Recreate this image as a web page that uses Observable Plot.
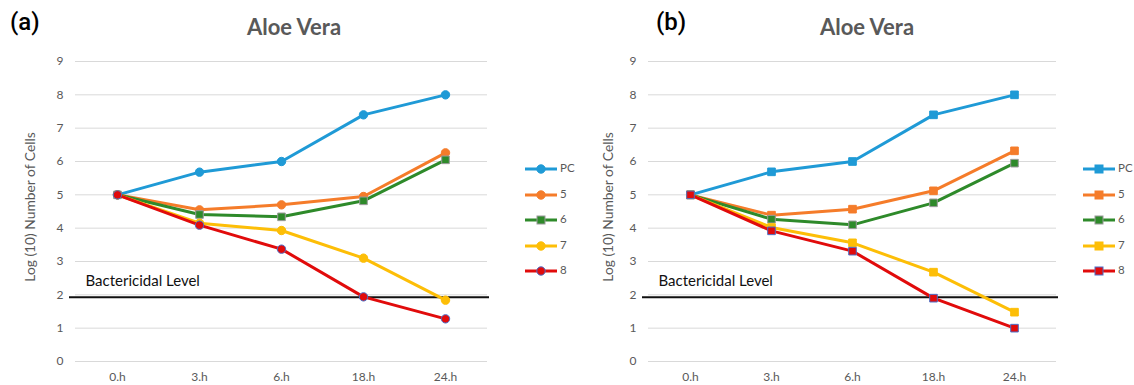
<!DOCTYPE html>
<html>
<head>
<meta charset="utf-8">
<script src="https://cdn.jsdelivr.net/npm/d3@7"></script>
<script src="https://cdn.jsdelivr.net/npm/@observablehq/plot@0.6"></script>
<style>
  body { margin: 0; background: #fff; font-family: Lato, "Open Sans", sans-serif; }
  #wrap { position: relative; width: 1134px; height: 385px; overflow: hidden; }
  .abs { position: absolute; white-space: nowrap; }
  .tag { font-family: Roboto, "Liberation Sans", sans-serif; font-weight: 500; font-size: 24px; color: #000; }
  .title { font-size: 22px; font-weight: bold; color: #595959; transform: translateX(-50%); }
  .ylab { font-size: 13.8px; color: #595959; transform: translate(-50%, -50%) rotate(-90deg); }
  .leg { font-size: 11.5px; color: #595959; }
</style>
</head>
<body>
<div id="wrap"></div>
<script>
// ---- data ----
const times = ["0.h", "3.h", "6.h", "18.h", "24.h"];
const seriesNames = ["PC", "5", "6", "7", "8"];
const yTicks = [0, 1, 2, 3, 4, 5, 6, 7, 8, 9];
const bactericidalLevel = 1.93;

// panel (a)
const aPC = [5, 5.68, 6.0, 7.4, 8.0];
const a5  = [5, 4.55, 4.7, 4.95, 6.26];
const a6  = [5, 4.41, 4.34, 4.82, 6.05];
const a7  = [5, 4.15, 3.93, 3.1, 1.84];
const a8  = [5, 4.09, 3.37, 1.94, 1.28];

// panel (b)
const bPC = [5, 5.69, 6.0, 7.4, 8.0];
const b5  = [5, 4.39, 4.57, 5.12, 6.32];
const b6  = [5, 4.27, 4.1, 4.76, 5.95];
const b7  = [5, 4.02, 3.56, 2.68, 1.48];
const b8  = [5, 3.92, 3.31, 1.9, 1.0];

// ---- styles ----
const lineColors = {PC: "#1f9ad6", "5": "#f57c2a", "6": "#2e8a2a", "7": "#fdbe07", "8": "#e10b0b"};
const markerStroke = {PC: "#1f9ad6", "5": "#f57c2a", "6": "#9a9a9a", "7": "#fdbe07", "8": "#4a6fc9"};

const wrap = document.getElementById("wrap");

function addDiv(cls, text, left, top) {
  const d = document.createElement("div");
  d.className = "abs " + cls;
  d.textContent = text;
  d.style.left = left + "px";
  d.style.top = top + "px";
  wrap.appendChild(d);
  return d;
}

function panel(cfg) {
  const data = [];
  seriesNames.forEach((s, i) => cfg.values[i].forEach((v, j) => data.push({time: times[j], value: v, series: s})));
  const marks = [
    Plot.ruleY(yTicks, {stroke: "#d9d9d9", strokeWidth: 1}),
    Plot.ruleY([bactericidalLevel], {stroke: "#111", strokeWidth: 2, insetLeft: -6, insetRight: -2}),
    Plot.text(["Bactericidal Level"], {frameAnchor: "left", y: [2.42], text: d => d, textAnchor: "start", dx: 10, fontSize: 15, fill: "#111"})
  ];
  seriesNames.forEach((s, i) => {
    const sd = data.filter(d => d.series === s);
    marks.push(Plot.line(sd, {x: "time", y: "value", stroke: lineColors[s], strokeWidth: 3}));
    const sym = cfg.symbols[i];
    marks.push(Plot.dot(sd, {x: "time", y: "value", symbol: sym, r: sym === "square" ? 4.3 : 4.2,
      fill: lineColors[s], stroke: markerStroke[s], strokeWidth: 1}));
  });
  const p = Plot.plot({
    width: 567, height: 385,
    marginTop: 61, marginBottom: 24, marginLeft: cfg.marginLeft, marginRight: cfg.marginRight,
    style: {fontFamily: "Lato, 'Open Sans', sans-serif", fontSize: "12px", color: "#595959", background: "transparent"},
    x: {type: "point", domain: times, padding: 0.5, label: null, tickSize: 0, tickPadding: 11},
    y: {domain: [0, 9], ticks: yTicks, label: null, tickSize: 0, tickPadding: 12},
    marks
  });
  p.style.position = "absolute";
  p.style.left = cfg.left + "px";
  p.style.top = "0px";
  wrap.appendChild(p);

  addDiv("tag", cfg.tag, cfg.tagX, 8);
  addDiv("title", "Aloe Vera", cfg.titleX, 13);
  addDiv("ylab", "Log (10) Number of Cells", cfg.ylabX, 207);

  // legend
  const legYs = [169, 194.5, 220, 245.5, 271];
  const ns = "http://www.w3.org/2000/svg";
  seriesNames.forEach((s, i) => {
    const svg = document.createElementNS(ns, "svg");
    svg.setAttribute("width", 34); svg.setAttribute("height", 12);
    svg.style.position = "absolute";
    svg.style.left = cfg.legX + "px";
    svg.style.top = (legYs[i] - 6) + "px";
    const ln = document.createElementNS(ns, "line");
    ln.setAttribute("x1", 0); ln.setAttribute("x2", 32); ln.setAttribute("y1", 6); ln.setAttribute("y2", 6);
    ln.setAttribute("stroke", lineColors[s]); ln.setAttribute("stroke-width", 3);
    svg.appendChild(ln);
    let m;
    if (cfg.symbols[i] === "square") {
      m = document.createElementNS(ns, "rect");
      m.setAttribute("x", 12); m.setAttribute("y", 2); m.setAttribute("width", 8); m.setAttribute("height", 8);
    } else {
      m = document.createElementNS(ns, "circle");
      m.setAttribute("cx", 16); m.setAttribute("cy", 6); m.setAttribute("r", 4.2);
    }
    m.setAttribute("fill", lineColors[s]); m.setAttribute("stroke", markerStroke[s]); m.setAttribute("stroke-width", 1);
    svg.appendChild(m);
    wrap.appendChild(svg);
    addDiv("leg", s, cfg.legX + 35, legYs[i] - 8);
  });
}

panel({
  values: [aPC, a5, a6, a7, a8],
  symbols: ["circle", "circle", "square", "circle", "circle"],
  left: 0, marginLeft: 75, marginRight: 80,
  tag: "(a)", tagX: 10, titleX: 294, ylabX: 29, legX: 525
});
panel({
  values: [bPC, b5, b6, b7, b8],
  symbols: ["square", "square", "square", "square", "square"],
  left: 567, marginLeft: 81, marginRight: 78,
  tag: "(b)", tagX: 656, titleX: 867, ylabX: 607, legX: 1083
});
</script>
</body>
</html>
